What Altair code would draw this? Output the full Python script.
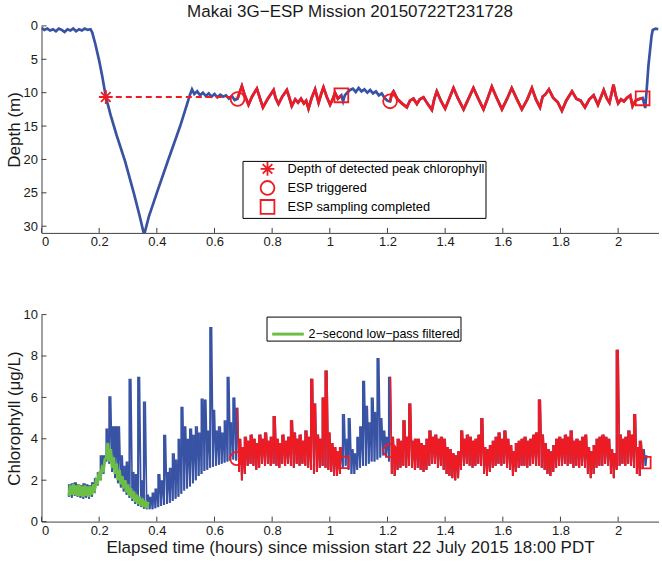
import altair as alt
import pandas as pd

BLUE = "#3953A4"
RED = "#ED1C24"
GREEN = "#6DBE45"
AXIS = "#404040"
TXT = "#1a1a1a"
FONT = "Liberation Sans"

W, H1, H2 = 617, 207, 207
XMAX = 2.14

# ---------------- data ----------------
x_ticks = [0, 0.2, 0.4, 0.6, 0.8, 1.0, 1.2, 1.4, 1.6, 1.8, 2.0]
depth_ticks = [0, 5, 10, 15, 20, 25, 30]
chl_ticks = [0, 2, 4, 6, 8, 10]

depth_t = [0.000, 0.010, 0.020, 0.030, 0.040, 0.050, 0.060, 0.070, 0.080, 0.090,
           0.100, 0.110, 0.120, 0.130, 0.140, 0.150, 0.160, 0.170, 0.176, 0.186,
           0.200, 0.211, 0.223, 0.240, 0.260, 0.290, 0.320, 0.340, 0.356, 0.372,
           0.400, 0.440, 0.481, 0.500, 0.515, 0.522, 0.530, 0.540, 0.550, 0.560,
           0.570, 0.580, 0.590, 0.600, 0.610, 0.620, 0.630, 0.640, 0.650, 0.660,
           0.670, 0.680, 0.687, 0.695, 0.705, 0.718, 0.730, 0.747, 0.758, 0.768,
           0.785, 0.805, 0.812, 0.822, 0.835, 0.851, 0.860, 0.868, 0.880, 0.890,
           0.900, 0.910, 0.918, 0.926, 0.937, 0.949, 0.955, 0.961, 0.970, 0.978,
           0.990, 1.001, 1.010, 1.018, 1.028, 1.040, 1.046, 1.052, 1.060, 1.070,
           1.080, 1.090, 1.100, 1.110, 1.120, 1.130, 1.140, 1.150, 1.160, 1.170,
           1.180, 1.190, 1.200, 1.209, 1.215, 1.221, 1.235, 1.250, 1.267, 1.278,
           1.290, 1.302, 1.312, 1.325, 1.338, 1.354, 1.362, 1.371, 1.385, 1.400,
           1.415, 1.429, 1.445, 1.464, 1.480, 1.498, 1.515, 1.533, 1.548, 1.562,
           1.580, 1.597, 1.615, 1.631, 1.648, 1.666, 1.685, 1.701, 1.715, 1.729,
           1.738, 1.747, 1.760, 1.775, 1.790, 1.805, 1.820, 1.840, 1.855, 1.870,
           1.885, 1.900, 1.915, 1.930, 1.950, 1.960, 1.970, 1.984, 1.992, 2.000,
           2.010, 2.020, 2.030, 2.042, 2.050, 2.060, 2.070, 2.085, 2.090, 2.094,
           2.100, 2.105, 2.111, 2.116, 2.120, 2.130, 2.140]
depth_m = [0.3, 0.6, 0.4, 0.7, 0.5, 0.8, 0.4, 0.6, 0.9, 0.5,
           0.7, 0.4, 0.8, 0.5, 0.7, 0.4, 0.6, 0.5, 1.0, 2.6,
           5.2, 7.6, 10.6, 13.4, 16.3, 20.3, 25.0, 28.4, 31.3, 28.6,
           25.0, 20.0, 15.0, 12.4, 10.3, 9.5, 10.2, 9.8, 10.4, 10.0,
           10.5, 10.1, 10.6, 10.2, 10.7, 10.3, 10.6, 10.4, 10.9, 10.5,
           11.1, 10.9, 10.0, 9.0, 10.4, 11.8, 10.6, 9.4, 10.9, 12.2,
           10.9, 9.6, 10.8, 11.7, 10.6, 9.6, 10.8, 12.0, 11.0, 11.5,
           10.9, 11.6, 11.2, 12.4, 10.8, 9.5, 10.5, 11.5, 10.2, 9.2,
           10.7, 11.8, 11.0, 10.0, 10.9, 10.4, 11.3, 10.4, 10.0, 9.6,
           9.4, 9.9, 9.3, 9.8, 9.5, 10.0, 9.6, 10.1, 9.8, 10.4,
           10.1, 10.8, 11.2, 11.3, 10.2, 9.8, 11.0, 11.6, 12.2, 11.2,
           10.9, 11.7, 11.0, 10.7, 11.6, 12.6, 11.0, 9.8, 11.2, 12.4,
           10.8, 9.3, 10.9, 12.5, 11.0, 9.3, 10.9, 12.5, 10.8, 9.1,
           10.9, 12.5, 10.9, 9.3, 10.9, 12.5, 11.0, 9.3, 11.0, 12.2,
           10.6, 10.3, 9.5, 10.8, 11.4, 12.7, 11.2, 9.8, 10.9, 11.2,
           12.2, 11.0, 10.4, 11.8, 9.6, 10.8, 11.5, 8.8, 10.5, 11.6,
           11.0, 11.3, 10.8, 10.4, 12.0, 11.2, 11.0, 10.8, 11.6, 12.3,
           9.0, 6.0, 3.5, 1.5, 0.6, 0.4, 0.5]

# ESP sampling periods (drawn in red)
esp_start = [0.68, 1.209]
esp_end = [1.04, 2.085]

# chlorophyll: sampled envelope (low / high) every 0.01 h from 0.095 h
chl_t0 = 0.095
chl_dt = 0.01
chl_lo = [1.20, 1.15, 1.25, 1.20, 1.15, 1.10, 1.15, 1.10, 1.20, 1.40,
          1.75, 2.00, 2.30, 2.90, 2.80, 2.40, 2.10, 1.85, 1.65, 1.45,
          1.30, 1.15, 1.00, 0.85, 0.75, 0.70, 0.62, 0.60, 0.60, 0.60,
          0.65, 0.70, 0.75, 0.80, 0.85, 0.90, 1.00, 1.10, 1.20, 1.35,
          1.50, 1.60, 1.70, 1.85, 2.00, 2.20, 2.30, 2.45, 2.50, 2.60,
          2.65, 2.70, 2.75, 2.80, 2.85, 2.90, 2.95, 3.00, 2.95, 2.40,
          2.00, 2.30, 2.70, 2.80, 2.70, 2.50, 2.60, 2.80, 2.70, 2.80,
          2.70, 2.80, 2.70, 2.60, 2.80, 2.70, 2.80, 2.70, 2.60, 2.80,
          2.70, 2.80, 2.70, 2.60, 2.50, 2.30, 2.40, 2.60, 2.70, 2.60,
          2.50, 2.40, 2.20, 2.20, 2.30, 2.60, 2.70, 2.50, 2.30, 2.30,
          2.50, 2.60, 2.70, 2.70, 2.80, 2.90, 2.90, 3.00, 3.10, 3.20,
          3.10, 2.90, 2.30, 2.20, 2.50, 2.60, 2.70, 2.60, 2.70, 2.60,
          2.50, 2.60, 2.50, 2.40, 2.50, 2.70, 2.80, 2.80, 2.60, 2.70,
          2.50, 2.30, 2.20, 2.10, 2.00, 2.10, 2.50, 2.70, 2.80, 2.70,
          2.60, 2.70, 2.80, 2.70, 2.30, 2.20, 2.40, 2.60, 2.70, 2.80,
          2.70, 2.80, 2.60, 2.50, 2.20, 2.40, 2.60, 2.70, 2.70, 2.60,
          2.70, 2.80, 2.70, 2.70, 2.60, 2.50, 2.30, 2.20, 2.40, 2.60,
          2.70, 2.70, 2.80, 2.70, 2.80, 2.60, 2.70, 2.60, 2.70, 2.60,
          2.30, 2.10, 2.30, 2.60, 2.70, 2.70, 2.80, 2.70, 2.30, 2.10,
          2.50, 2.70, 2.80, 2.70, 2.80, 2.70, 2.60, 2.30, 2.20, 2.60,
          2.70]
chl_hi = [1.80, 1.85, 1.90, 1.80, 1.75, 1.85, 1.80, 1.75, 1.90, 2.10,
          2.40, 3.20, 3.20, 4.50, 6.05, 4.60, 4.60, 4.60, 3.20, 2.70,
          2.90, 6.90, 2.40, 2.30, 7.00, 2.00, 5.80, 1.30, 1.20, 1.40,
          1.60, 2.30, 2.00, 4.20, 2.40, 2.60, 3.30, 3.00, 4.00, 5.55,
          4.60, 4.00, 4.50, 4.20, 4.60, 4.30, 5.95, 5.90, 4.40, 9.40,
          5.40, 4.40, 4.60, 4.30, 4.90, 7.00, 4.80, 6.00, 5.50, 4.00,
          3.60, 4.10, 3.90, 4.20, 4.00, 3.80, 4.20, 4.00, 4.30, 3.90,
          4.10, 5.10, 4.00, 3.80, 4.20, 3.90, 4.10, 4.90, 4.30, 4.00,
          4.20, 3.90, 4.40, 4.10, 6.90, 5.70, 4.20, 4.00, 6.00, 7.30,
          4.30, 3.80, 3.60, 3.40, 3.60, 5.20, 4.00, 5.00, 3.50, 3.30,
          4.10, 4.60, 6.80, 5.60, 4.80, 6.00, 5.30, 7.90, 5.00, 4.40,
          4.10, 7.00, 4.10, 3.60, 4.00, 3.90, 4.90, 4.10, 5.70, 3.90,
          4.00, 4.00, 3.80, 3.70, 4.00, 4.40, 4.10, 4.20, 4.00, 4.10,
          4.00, 3.60, 3.50, 3.30, 3.20, 3.40, 4.40, 4.00, 4.20, 4.10,
          3.90, 4.00, 4.20, 5.00, 3.60, 3.50, 3.70, 3.90, 4.10, 4.30,
          4.00, 4.40, 4.00, 3.70, 3.40, 3.80, 3.90, 4.00, 4.10, 3.90,
          4.00, 4.20, 4.30, 5.90, 4.20, 3.80, 3.50, 3.40, 3.70, 4.00,
          4.10, 4.00, 4.20, 4.10, 4.40, 3.90, 4.00, 3.90, 4.10, 4.20,
          3.60, 3.40, 3.70, 4.00, 4.10, 4.20, 4.10, 4.00, 3.50, 3.30,
          8.30, 4.20, 4.00, 4.10, 4.40, 4.20, 5.20, 3.60, 3.90, 3.50,
          3.20]

# 2-second low-pass filtered chlorophyll envelope (same time grid)
lp_lo = [1.25, 1.30, 1.30, 1.25, 1.25, 1.20, 1.25, 1.20, 1.30, 1.60,
         1.90, 2.20, 2.50, 3.10, 2.90, 2.60, 2.30, 2.00, 1.80, 1.60,
         1.40, 1.25, 1.10, 0.95, 0.85, 0.75, 0.70, 0.65]
lp_hi = [1.75, 1.80, 1.75, 1.80, 1.70, 1.75, 1.70, 1.70, 1.80, 2.00,
         2.40, 2.60, 3.00, 3.80, 3.50, 3.10, 2.80, 2.50, 2.20, 2.00,
         1.80, 1.60, 1.45, 1.30, 1.20, 1.10, 1.00, 0.95]

LP_LABEL = "2\u2212second low\u2212pass filtered"

# event markers
ev_labels = ["Depth of detected peak chlorophyll", "ESP triggered", "ESP sampling completed"]
top_kind = [ev_labels[0], ev_labels[1], ev_labels[1], ev_labels[2], ev_labels[2]]
top_t = [0.223, 0.680, 1.209, 1.040, 2.085]
top_depth = [10.65, 10.95, 11.3, 10.4, 10.85]

peak_line_t = [0.223, 0.675]
peak_line_depth = [10.65, 10.65]

bot_kind = ["circle", "circle", "square", "square"]
bot_t = [0.677, 1.209, 1.045, 2.093]
bot_chl = [3.05, 3.43, 2.86, 2.85]

# ---------------- tables ----------------
def seg_of(t):
    for k, (a, b) in enumerate(zip(esp_start, esp_end)):
        if a <= t <= b:
            return k
    return -1

depth_df = pd.DataFrame({"t": depth_t, "depth": depth_m})
depth_df["seg"] = [seg_of(t) for t in depth_df["t"]]
depth_red = depth_df[depth_df["seg"] >= 0]

# envelope table (one vertical stroke per sample) and zig-zag table (jagged edges)
band_df = pd.DataFrame({
    "t": [round(chl_t0 + chl_dt * i, 4) for i in range(len(chl_lo))],
    "chl": chl_lo, "chl_hi": chl_hi})
band_df["seg"] = [seg_of(t) for t in band_df["t"]]
band_red = band_df[band_df["seg"] >= 0]

rows = []
for i, (lo, hi) in enumerate(zip(chl_lo, chl_hi)):
    t = chl_t0 + chl_dt * i
    rows.append({"t": round(t, 4), "chl": lo})
    rows.append({"t": round(t + chl_dt / 2, 4), "chl": hi})
chl_df = pd.DataFrame(rows)
chl_df["seg"] = [seg_of(t) for t in chl_df["t"]]
chl_red = chl_df[chl_df["seg"] >= 0]

lrows = []
for i, (lo, hi) in enumerate(zip(lp_lo, lp_hi)):
    t = chl_t0 + chl_dt * i
    lrows.append({"t": round(t, 4), "chl": lo, "lbl": LP_LABEL})
    lrows.append({"t": round(t + chl_dt / 2, 4), "chl": hi, "lbl": LP_LABEL})
lp_df = pd.DataFrame(lrows)

top_ev = pd.DataFrame({"t": top_t, "depth": top_depth, "kind": top_kind})
peak_df = pd.DataFrame({"t": peak_line_t, "depth": peak_line_depth})
bot_ev = pd.DataFrame({"t": bot_t, "chl": bot_chl, "kind": bot_kind})

xt_df = pd.DataFrame({"t": x_ticks})
dt_df = pd.DataFrame({"depth": depth_ticks})
ct_df = pd.DataFrame({"chl": chl_ticks})

# ---------------- scales / axes ----------------
xscale = alt.Scale(domain=[0, XMAX], nice=False, zero=False)
dscale = alt.Scale(domain=[0, 31], reverse=True, nice=False, zero=False)
cscale = alt.Scale(domain=[0, 10], nice=False, zero=False)

x_top_axis = alt.Axis(values=x_ticks, format="~r", title=None, labelPadding=3)
x_bot_axis = alt.Axis(values=x_ticks, format="~r", labelPadding=3,
                      title="Elapsed time (hours) since mission start 22 July 2015 18:00 PDT",
                      titleX=W / 2, titleY=31, titleAlign="center",
                      titleBaseline="alphabetic", titleFontSize=17)
d_axis = alt.Axis(values=depth_ticks, format="~r", title="Depth (m)", labelPadding=4,
                  titleX=-22, titleY=H1 / 2, titleAngle=270, titleAlign="center",
                  titleBaseline="alphabetic", titleFontSize=17)
c_axis = alt.Axis(values=chl_ticks, format="~r", title="Chlorophyll (\u03bcg/L)", labelPadding=4,
                  titleX=-22, titleY=H2 / 2, titleAngle=270, titleAlign="center",
                  titleBaseline="alphabetic", titleFontSize=17)

# shared encodings (identical axes in every layer so they merge cleanly)
XT = alt.X("t:Q", scale=xscale, axis=x_top_axis)
YD = alt.Y("depth:Q", scale=dscale, axis=d_axis)
XB = alt.X("t:Q", scale=xscale, axis=x_bot_axis)
YC = alt.Y("chl:Q", scale=cscale, axis=c_axis)

ASTER = "M0,-1L0,1M-1,0L1,0M-0.7,-0.7L0.7,0.7M-0.7,0.7L0.7,-0.7"

# ---------------- top panel ----------------
d_blue = alt.Chart(depth_df).mark_line(color=BLUE, strokeWidth=2.7, clip=True).encode(
    x=XT, y=YD, order="t:Q")
d_red = alt.Chart(depth_red).mark_line(color=RED, strokeWidth=2.7, clip=True).encode(
    x=XT, y=YD, detail="seg:N", order="t:Q")
d_peak = alt.Chart(peak_df).mark_line(color=RED, strokeWidth=2, strokeDash=[6, 4]).encode(
    x=XT, y=YD)
d_ev = alt.Chart(top_ev).mark_point(filled=False, color=RED, strokeWidth=1.8, size=190, opacity=1).encode(
    x=XT, y=YD,
    shape=alt.Shape("kind:N",
                    scale=alt.Scale(domain=ev_labels, range=[ASTER, "circle", "square"]),
                    legend=alt.Legend(title=None, orient="none", legendX=201, legendY=135,
                                      direction="vertical", strokeColor="black", fillColor="white",
                                      padding=0, symbolOffset=17, labelOffset=12, rowPadding=-7,
                                      labelFontSize=12.8, labelColor="black", labelLimit=400,
                                      symbolSize=190, symbolStrokeWidth=1.8,
                                      symbolStrokeColor=RED, symbolFillColor="transparent")),
)
d_xt = alt.Chart(xt_df).mark_rule(color=AXIS, strokeWidth=1).encode(
    x=XT, y=alt.value(H1), y2=alt.value(H1 - 5))
d_yt = alt.Chart(dt_df).mark_rule(color=AXIS, strokeWidth=1).encode(
    y=YD, x=alt.value(0), x2=alt.value(5))

top = alt.layer(d_blue, d_red, d_peak, d_xt, d_yt, d_ev).properties(
    width=W, height=H1,
    title=alt.TitleParams("Makai 3G\u2212ESP Mission 20150722T231728", fontSize=17,
                          fontWeight="normal", font=FONT, color=TXT, anchor="middle", offset=-1),
)

# ---------------- bottom panel ----------------
c_blue_band = alt.Chart(band_df).mark_rule(color=BLUE, strokeWidth=2.0, clip=True).encode(
    x=XB, y=YC, y2="chl_hi:Q")
c_blue = alt.Chart(chl_df).mark_line(color=BLUE, strokeWidth=1.6, clip=True).encode(
    x=XB, y=YC, order="t:Q")
c_red_band = alt.Chart(band_red).mark_rule(color=RED, strokeWidth=2.0, clip=True).encode(
    x=XB, y=YC, y2="chl_hi:Q")
c_red = alt.Chart(chl_red).mark_line(color=RED, strokeWidth=1.6, clip=True).encode(
    x=XB, y=YC, detail="seg:N", order="t:Q")
c_lp = alt.Chart(lp_df).mark_line(strokeWidth=3, clip=True).encode(
    x=XB, y=YC,
    color=alt.Color("lbl:N", scale=alt.Scale(domain=[LP_LABEL], range=[GREEN]),
                    legend=alt.Legend(title=None, orient="none", legendX=225, legendY=2,
                                      strokeColor="black", fillColor="white", padding=0,
                                      symbolType="stroke", symbolSize=1000, symbolStrokeWidth=3,
                                      symbolOffset=4, labelOffset=3, labelFontSize=12.5,
                                      labelColor="black", labelLimit=400)),
    order="t:Q",
)
c_circ = alt.Chart(bot_ev[bot_ev["kind"] == "circle"]).mark_point(
    shape="circle", filled=False, color=RED, strokeWidth=1.8, size=175, opacity=1).encode(
    x=XB, y=YC)
c_sq = alt.Chart(bot_ev[bot_ev["kind"] == "square"]).mark_point(
    shape="square", filled=False, color=RED, strokeWidth=1.8, size=130, opacity=1).encode(
    x=XB, y=YC)
c_xt = alt.Chart(xt_df).mark_rule(color=AXIS, strokeWidth=1).encode(
    x=XB, y=alt.value(H2), y2=alt.value(H2 - 5))
c_yt = alt.Chart(ct_df).mark_rule(color=AXIS, strokeWidth=1).encode(
    y=YC, x=alt.value(0), x2=alt.value(5))

bottom = alt.layer(c_blue_band, c_blue, c_red_band, c_red, c_lp, c_xt, c_yt, c_circ, c_sq).properties(
    width=W, height=H2)

chart = alt.vconcat(top, bottom, spacing=81.7, bounds="flush").resolve_scale(
    x="shared"
).resolve_legend(color="independent", shape="independent").properties(
    padding={"left": 4.5, "top": 2.9, "right": 0, "bottom": 0},
    background="white",
).configure_view(stroke=None).configure_axis(
    domainColor=AXIS, domainWidth=1, ticks=False, grid=False,
    labelFont=FONT, labelFontSize=13, labelColor=TXT,
    titleFont=FONT, titleFontWeight="normal", titleColor=TXT,
).configure_legend(labelFont=FONT)

chart.save("out.html", embed_options={"renderer": "svg", "actions": False})
